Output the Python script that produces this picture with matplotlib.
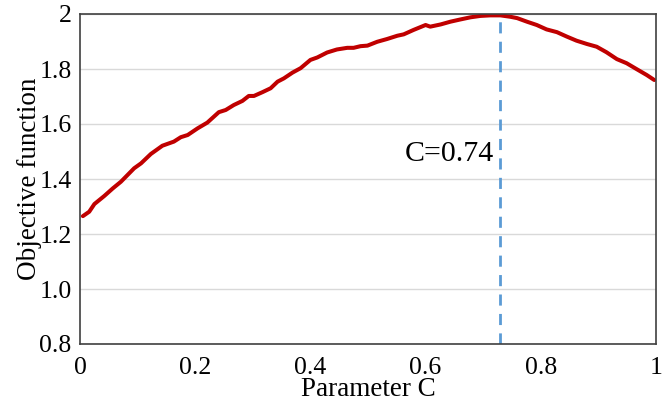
import numpy as np
import matplotlib
matplotlib.use("Agg")
import matplotlib.pyplot as plt

# values
c_vals = [0.005, 0.016, 0.025, 0.042, 0.057, 0.071, 0.094, 0.106, 0.123, 0.143,
          0.163, 0.175, 0.187, 0.204, 0.221, 0.241, 0.253, 0.267, 0.282, 0.293,
          0.302, 0.317, 0.331, 0.343, 0.354, 0.369, 0.383, 0.400, 0.412, 0.429,
          0.446, 0.464, 0.475, 0.487, 0.499, 0.516, 0.533, 0.551, 0.562, 0.579,
          0.600, 0.608, 0.626, 0.643, 0.660, 0.678, 0.695, 0.712, 0.730, 0.747,
          0.759, 0.776, 0.793, 0.810, 0.828, 0.845, 0.862, 0.880, 0.897, 0.914,
          0.932, 0.949, 0.966, 0.984, 0.997]
obj_vals = [1.265, 1.281, 1.309, 1.338, 1.366, 1.390, 1.439, 1.457, 1.491, 1.521,
            1.536, 1.552, 1.560, 1.584, 1.605, 1.643, 1.651, 1.669, 1.684, 1.702,
            1.702, 1.716, 1.730, 1.754, 1.766, 1.787, 1.803, 1.833, 1.842, 1.860,
            1.871, 1.877, 1.877, 1.883, 1.885, 1.899, 1.909, 1.921, 1.926, 1.942,
            1.960, 1.954, 1.962, 1.972, 1.980, 1.988, 1.993, 1.995, 1.995, 1.990,
            1.985, 1.972, 1.960, 1.944, 1.934, 1.918, 1.903, 1.891, 1.881, 1.861,
            1.836, 1.821, 1.800, 1.778, 1.760]
best_c = 0.73
x_ticks = [0, 0.2, 0.4, 0.6, 0.8, 1.0]
x_labels = ["0", "0.2", "0.4", "0.6", "0.8", "1"]
y_ticks = [0.8, 1.0, 1.2, 1.4, 1.6, 1.8, 2.0]
y_labels = ["0.8", "1.0", "1.2", "1.4", "1.6", "1.8", "2"]

plt.rcParams['font.family'] = ['Liberation Serif', 'DejaVu Serif']

fig = plt.figure(figsize=(6.64, 4.07), dpi=100)
ax = fig.add_axes([80/664, 1-344/407, 576/664, 330/407])

ax.grid(axis='y', color='#d9d9d9', linewidth=1)
ax.set_axisbelow(True)
ax.plot(c_vals, obj_vals, color='#c00000', linewidth=2.9, solid_capstyle='round')
ax.axvline(best_c, color='#5b9bd5', linewidth=2, linestyle=(0, (4, 3)))
ax.text(best_c - 0.012, 1.49, "C=0.74", fontsize=21.5, ha='right', va='center')

ax.set_xlim(0, 1)
ax.set_ylim(0.8, 2.0)
ax.set_xticks(x_ticks)
ax.set_xticklabels(x_labels)
ax.set_yticks(y_ticks)
ax.set_yticklabels(y_labels)
ax.tick_params(axis='x', length=0, labelsize=18.5, pad=9)
ax.tick_params(axis='y', length=0, labelsize=18.5, pad=6)
for s in ax.spines.values():
    s.set_color('#404040')
    s.set_linewidth(1.2)

ax.set_xlabel("Parameter C", fontsize=19.5)
ax.set_ylabel("Objective function", fontsize=19.5)
ax.xaxis.set_label_coords(0.5, -0.1)
ax.yaxis.set_label_coords(-0.066, 0.5)

fig.savefig("out.png", dpi=100)
